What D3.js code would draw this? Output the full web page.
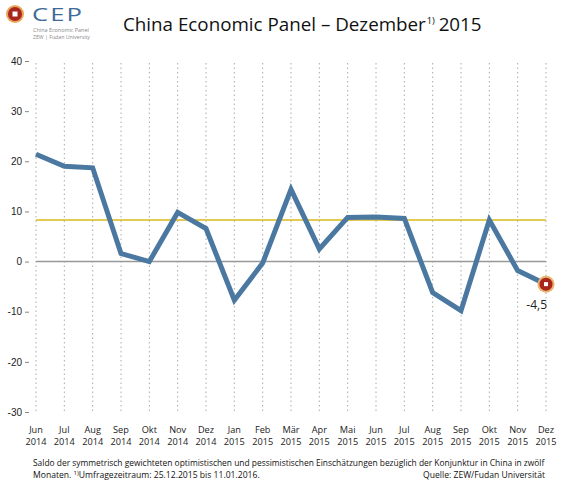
<!DOCTYPE html>
<html lang="de">
<head>
<meta charset="UTF-8">
<title>China Economic Panel – Dezember 2015</title>
<style>
  body { margin: 0; background: #fff; }
  svg { display: block; font-family: "Open Sans", "DejaVu Sans", sans-serif; }
  .tick text { font-size: 10px; fill: #222; }
  .grid line { stroke: #aaa; stroke-dasharray: 1.5 3; stroke-width: 1; }
</style>
</head>
<body>
<svg id="chart" width="576" height="488"></svg>
<script src="https://cdnjs.cloudflare.com/ajax/libs/d3/7.8.5/d3.min.js"></script>
<script>
// data
const months = ["Jun", "Jul", "Aug", "Sep", "Okt", "Nov", "Dez", "Jan", "Feb", "Mär",
                "Apr", "Mai", "Jun", "Jul", "Aug", "Sep", "Okt", "Nov", "Dez"];
const years = ["2014", "2014", "2014", "2014", "2014", "2014", "2014", "2015", "2015", "2015",
               "2015", "2015", "2015", "2015", "2015", "2015", "2015", "2015", "2015"];
const saldo = [21.4, 19.0, 18.7, 1.6, 0.0, 9.8, 6.6, -7.7, -0.3, 14.4,
               2.5, 8.8, 8.9, 8.6, -6.2, -9.8, 8.3, -1.8, -4.5];
const average = 8.3;
const yTicks = [40, 30, 20, 10, 0, -10, -20, -30];

const svg = d3.select("#chart");

const x = d3.scalePoint().domain(d3.range(months.length)).range([36, 546]);
const y = d3.scaleLinear().domain([-30, 40]).range([412, 61]);

// shrink a text's font size so it spans the given width
function fit(sel, width) {
  const fs = parseFloat(sel.attr("font-size"));
  const w = sel.node().getComputedTextLength();
  if (w > width) sel.attr("font-size", (fs * width / w).toFixed(2));
  return sel;
}

// logo
const logo = svg.append("g");
logo.append("circle").attr("cx", 15).attr("cy", 14).attr("r", 9).attr("fill", "#e8a85a");
logo.append("circle").attr("cx", 15).attr("cy", 14).attr("r", 7).attr("fill", "#a8261d");
logo.append("rect").attr("x", 12.5).attr("y", 11.5).attr("width", 5).attr("height", 5).attr("fill", "#fff");
logo.append("text").attr("transform", "translate(32,21) scale(1.35,1)")
    .attr("font-size", 19).attr("letter-spacing", 1.5).attr("fill", "#3d6a96")
    .text("CEP");
fit(logo.append("text").attr("x", 33).attr("y", 32).attr("font-size", 6).attr("fill", "#888")
    .text("China Economic Panel"), 56);
fit(logo.append("text").attr("x", 33).attr("y", 38.5).attr("font-size", 6).attr("fill", "#888")
    .text("ZEW | Fudan University"), 57);

// title
const title = svg.append("text").attr("x", 123).attr("y", 31)
    .attr("font-size", 22).attr("fill", "#111");
title.append("tspan").text("China Economic Panel – Dezember");
title.append("tspan").attr("font-size", "50%").attr("dy", "-0.7em").attr("dx", "0.1em").text("1)");
title.append("tspan").attr("dy", "0.35em").attr("dx", "0.2em").text("2015");
fit(title, 354);

// vertical dotted gridlines
svg.append("g").attr("class", "grid")
  .selectAll("line").data(d3.range(months.length)).join("line")
    .attr("x1", d => x(d)).attr("x2", d => x(d))
    .attr("y1", y(40) + 2).attr("y2", y(-30));

// y axis (labels + short tick dashes only)
const yAxis = svg.append("g").attr("transform", "translate(29,0)")
  .call(d3.axisLeft(y).tickValues(yTicks).tickSize(4).tickPadding(3).tickFormat(d => String(d)));
yAxis.select(".domain").remove();
yAxis.selectAll(".tick line").attr("stroke", "#888");

// x labels (month over year)
const xl = svg.append("g").attr("text-anchor", "middle").attr("font-size", 9.2).attr("fill", "#222");
xl.selectAll("text.m").data(d3.range(months.length)).join("text").attr("class", "m")
    .attr("x", d => x(d)).attr("y", 432.5).text(d => months[d]);
xl.selectAll("text.yr").data(d3.range(years.length)).join("text").attr("class", "yr")
    .attr("x", d => x(d)).attr("y", 445.2).text(d => years[d]);

// zero line and average line
svg.append("line").attr("x1", x(0)).attr("x2", x(18)).attr("y1", y(0)).attr("y2", y(0))
    .attr("stroke", "#999").attr("stroke-width", 1.5);
svg.append("line").attr("x1", x(0)).attr("x2", x(18)).attr("y1", y(average)).attr("y2", y(average))
    .attr("stroke", "#d9b91a").attr("stroke-width", 1.5);

// series
const line = d3.line().x((d, i) => x(i)).y(d => y(d));
svg.append("path").datum(saldo).attr("d", line)
    .attr("fill", "none").attr("stroke", "#4b78a0").attr("stroke-width", 5)
    .attr("stroke-linejoin", "miter");

// end marker
const last = saldo.length - 1;
svg.append("circle").attr("cx", x(last)).attr("cy", y(saldo[last])).attr("r", 8.5).attr("fill", "#eab46e");
svg.append("circle").attr("cx", x(last)).attr("cy", y(saldo[last])).attr("r", 6.5).attr("fill", "#a8261d");
svg.append("rect").attr("x", x(last) - 2).attr("y", y(saldo[last]) - 2).attr("width", 4).attr("height", 4).attr("fill", "#fff");
svg.append("text").attr("x", x(last) + 1).attr("y", y(saldo[last]) + 25)
    .attr("text-anchor", "end").attr("font-size", 12).attr("fill", "#222")
    .text(String(saldo[last]).replace(".", ","));

// footnote
const fn = svg.append("g").attr("fill", "#111");
fit(fn.append("text").attr("x", 33).attr("y", 466).attr("font-size", 9)
  .text("Saldo der symmetrisch gewichteten optimistischen und pessimistischen Einschätzungen bezüglich der Konjunktur in China in zwölf"), 512);
const l2 = fn.append("text").attr("x", 33).attr("y", 478).attr("font-size", 8.6);
l2.append("tspan").text("Monaten. ");
l2.append("tspan").attr("font-size", 6).attr("dy", -3).text("1)");
l2.append("tspan").attr("dy", 3).text("Umfragezeitraum: 25.12.2015 bis 11.01.2016.");
fn.append("text").attr("x", 545).attr("y", 478).attr("font-size", 8.6).attr("text-anchor", "end")
  .text("Quelle: ZEW/Fudan Universität");
</script>
</body>
</html>
